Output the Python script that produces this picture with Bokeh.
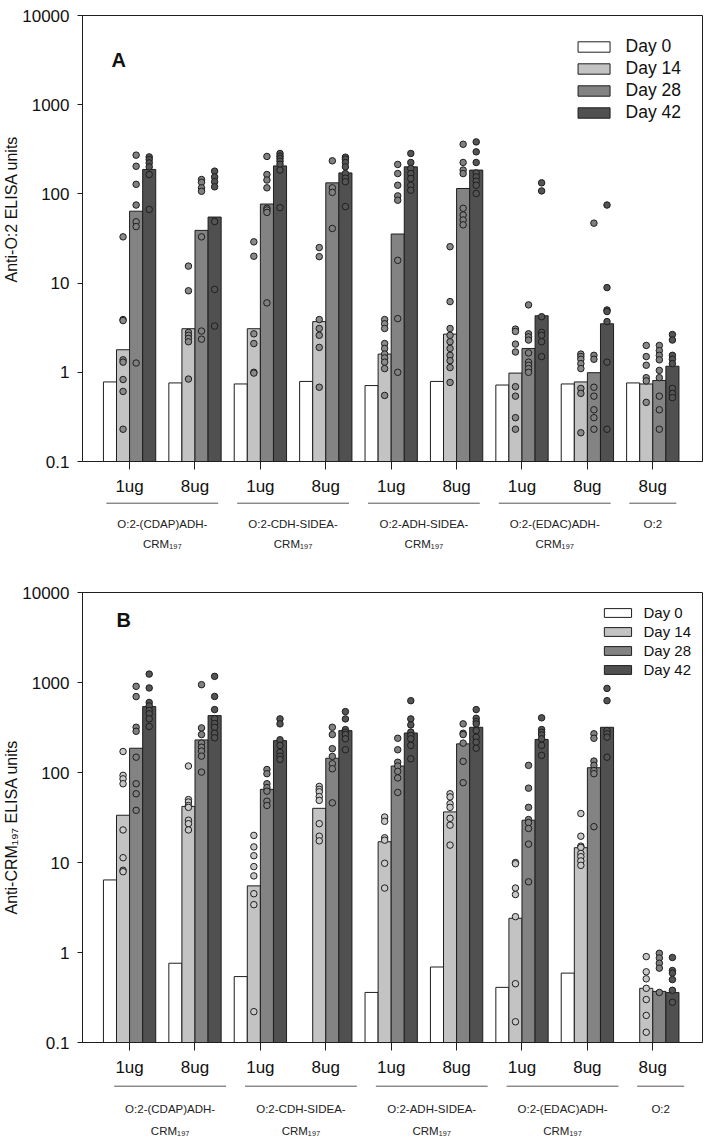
import math
import numpy as np
from bokeh.plotting import figure
from bokeh.models import (ColumnDataSource, Range1d, FixedTicker, PrintfTickFormatter,
                          Label, Legend, LegendItem, Title)
from bokeh.layouts import column
from bokeh.embed import file_html
from bokeh.resources import INLINE
from bokeh.core.properties import value

NaN = float("nan")

# ---------------- data ----------------
groups = [0, 1, 2, 3, 4, 5, 6, 7, 8]
dose_labels = ["1ug", "8ug", "1ug", "8ug", "1ug", "8ug", "1ug", "8ug", "8ug"]
construct_line1 = ["O:2-(CDAP)ADH-", "O:2-CDH-SIDEA-", "O:2-ADH-SIDEA-", "O:2-(EDAC)ADH-", "O:2"]
construct_line2 = ["CRM\u2081\u2089\u2087", "CRM\u2081\u2089\u2087", "CRM\u2081\u2089\u2087", "CRM\u2081\u2089\u2087", ""]
construct_members = [[0, 1], [2, 3], [4, 5], [6, 7], [8]]
days = ["Day 0", "Day 14", "Day 28", "Day 42"]
y_ticks = [0.1, 1, 10, 100, 1000, 10000]

# Panel A: anti-O:2 (bar = group mean)
a_day0 = [0.78, 0.76, 0.74, 0.79, 0.71, 0.79, 0.72, 0.74, 0.76]
a_day14 = [1.79, 3.08, 3.08, 3.7, 1.6, 2.68, 0.98, 0.78, 0.74]
a_day28 = [64, 39, 77, 133, 35.5, 115, 1.85, 0.99, 0.81]
a_day42 = [188, 55, 206, 172, 201, 185, 4.3, 3.5, 1.17]

a_pts14 = [
    [33, 3.9, 3.8, 1.38, 1.3, 0.83, 0.61, 0.23],
    [15.5, 8.2, 2.8, 2.6, 2.4, 2.2, 0.84],
    [29, 20, 2.7, 2.1, 1.0, 0.98],
    [25, 19.8, 3.9, 3.1, 2.6, 1.9, 0.68],
    [3.9, 3.5, 3.1, 2.1, 1.85, 1.6, 1.45, 1.3, 1.1, 0.55],
    [25.6, 6.2, 3.1, 2.6, 2.2, 1.85, 1.55, 1.35, 1.13, 0.77],
    [3.05, 2.87, 2.07, 1.69, 0.69, 0.54, 0.31, 0.23],
    [1.6, 1.5, 1.4, 1.25, 1.1, 0.66, 0.58, 0.21],
    [2.0, 1.5, 1.2, 0.87, 0.8, 0.46],
]
a_pts28 = [
    [272, 204, 128, 75, 48.7, 43, 1.27],
    [145, 135, 117, 107, 33, 2.9, 2.35],
    [263, 165, 143, 117, 69, 66, 62, 6.0],
    [235, 117, 104, 41],
    [214, 169, 125, 95, 85, 18, 4.0, 1.0],
    [360, 225, 185, 169, 69, 58, 51, 45],
    [5.7, 2.7, 2.5, 2.3, 1.65, 1.3, 1.2, 1.1, 1.0],
    [47, 1.55, 1.4, 0.68, 0.54, 0.38, 0.31, 0.23],
    [2.0, 1.75, 1.55, 1.38, 1.05, 0.87, 0.54, 0.38, 0.23],
]
a_pts42 = [
    [260, 243, 223, 201, 165, 67],
    [180, 155, 137, 120, 49, 8.5, 3.3],
    [284, 265, 250, 233, 215, 185, 70],
    [258, 245, 225, 201, 169, 150, 137, 72],
    [284, 225, 193, 169, 149, 125, 110],
    [383, 296, 225, 172, 155, 139, 125, 101],
    [133, 108, 4.2, 2.8, 2.6, 2.2, 1.5],
    [75, 8.9, 5.0, 4.8, 3.7, 1.3, 0.23],
    [2.65, 2.3, 1.55, 1.4, 1.25, 0.66, 0.58, 0.52],
]

# Panel B: anti-CRM197
b_day0 = [6.4, 0.76, 0.54, NaN, 0.36, 0.69, 0.41, 0.59, NaN]
b_day14 = [33.5, 42, 5.5, 40, 17, 36.5, 2.4, 14.6, 0.40]
b_day28 = [186, 230, 65, 144, 118, 208, 29.5, 113, 0.37]
b_day42 = [540, 429, 226, 292, 275, 318, 233, 318, 0.36]

b_pts14 = [
    [171, 93, 85, 75, 23, 11.3, 8.2, 7.9],
    [118, 50, 47, 43, 41, 29.5, 27, 23],
    [20, 14.9, 11.9, 9, 7.1, 4.5, 3.4, 0.22],
    [70, 65, 61, 54, 49, 27, 19.6, 17.4],
    [32, 28.7, 18.8, 17.7, 9.8, 5.2],
    [58, 53.5, 45, 41, 31, 26, 15.6],
    [10, 9.7, 5.2, 4.4, 2.5, 0.45, 0.17],
    [35, 19.6, 15.2, 14.7, 12.6, 11.6, 10.4, 9.3],
    [0.9, 0.61, 0.51, 0.40, 0.30, 0.20, 0.13],
]
b_pts28 = [
    [906, 697, 318, 287, 148, 75, 58, 38],
    [946, 313, 264, 212, 191, 173, 152, 101],
    [108, 97, 75, 68, 62, 48, 43],
    [318, 264, 184, 151, 125, 110, 46],
    [240, 179, 130, 118, 103, 87, 60],
    [347, 273, 264, 212, 133, 77],
    [120, 67, 41, 30, 27.8, 23.9, 16, 6.1],
    [269, 240, 134, 120, 105, 97, 25],
    [0.98, 0.87, 0.76, 0.67, 0.36],
]
b_pts42 = [
    [1240, 870, 600, 550, 490, 450, 395, 325],
    [1170, 700, 500, 395, 350, 318, 273, 243],
    [394, 347, 231, 200, 168, 152, 140],
    [475, 394, 300, 280, 264, 237, 179],
    [628, 394, 338, 281, 258, 237, 200, 142],
    [500, 400, 368, 347, 292, 247, 217, 186],
    [405, 300, 280, 262, 237, 200, 155],
    [860, 628, 292, 269, 247, 148],
    [0.88, 0.63, 0.59, 0.5, 0.38, 0.28],
]

# ---------------- style ----------------
FONT = "Liberation Sans"
INK = "#1e1e1e"
bar_colors = ["#ffffff", "#c3c3c3", "#838383", "#505050"]
offsets = [-0.3, -0.1, 0.1, 0.3]
BAR_W = 0.2
FIG_W = 711
X_LO, X_HI = -0.72, 8.76


def make_panel(means, pts, dot_colors, letter, letter_xy, letter_size, ylabel, ylabel_offset,
               b_left, b_right, b_top, frame_h, leg):
    p = figure(width=FIG_W, height=b_top + frame_h + 36,
               x_range=Range1d(X_LO, X_HI), y_range=Range1d(0.1, 10000),
               y_axis_type="log", output_backend="svg", toolbar_location=None,
               min_border_left=b_left, min_border_right=b_right,
               min_border_top=b_top, min_border_bottom=36)
    p.grid.visible = False
    p.outline_line_color = INK
    p.outline_line_width = 1
    p.background_fill_color = "white"
    p.border_fill_color = "white"

    renderers = []
    for k in range(4):
        xs = [g + offsets[k] for g, v in zip(groups, means[k]) if not math.isnan(v)]
        ys = [v for v in means[k] if not math.isnan(v)]
        src = ColumnDataSource(dict(x=xs, top=ys))
        r = p.vbar(x="x", top="top", bottom=0.01, width=BAR_W, source=src,
                   fill_color=bar_colors[k], line_color=INK, line_width=1)
        renderers.append(r)

    for k in range(1, 4):
        xs, ys = [], []
        for g, vals in zip(groups, pts[k - 1]):
            for v in vals:
                xs.append(g + offsets[k])
                ys.append(v)
        p.scatter(x=xs, y=ys, size=6.5, fill_color=dot_colors[k - 1],
                  line_color=INK, line_width=1)

    # axes
    yax = p.yaxis[0]
    yax.ticker = FixedTicker(ticks=y_ticks)
    yax.formatter = PrintfTickFormatter(format="%g")
    yax.major_label_text_font = FONT
    yax.major_label_text_font_size = "17px"
    yax.major_label_text_color = "#111111"
    yax.major_tick_out = 5
    yax.major_tick_in = 0
    yax.minor_tick_line_color = None
    yax.major_label_standoff = 8
    yax.axis_line_color = INK
    yax.major_tick_line_color = INK

    xax = p.xaxis[0]
    xax.ticker = FixedTicker(ticks=groups)
    xax.major_label_overrides = {g: lab for g, lab in zip(groups, dose_labels)}
    xax.major_label_text_font = FONT
    xax.major_label_text_font_size = "17px"
    xax.major_label_text_color = "#111111"
    xax.major_tick_out = 8
    xax.major_tick_in = 0
    xax.minor_tick_line_color = None
    xax.major_label_standoff = 7
    xax.axis_line_color = INK
    xax.major_tick_line_color = INK

    # y title as side title (placed along the frame from its bottom)
    p.add_layout(Title(text=ylabel, align="left", offset=ylabel_offset, text_font=FONT,
                       text_font_size="16px", text_font_style="normal",
                       text_color="#111111", standoff=0), "left")
    p.add_layout(Label(x=letter_xy[0], y=letter_xy[1], x_units="screen", y_units="screen",
                       text=letter, text_font=FONT, text_font_size=letter_size,
                       text_font_style="bold", text_baseline="alphabetic",
                       text_color="#111111"))

    legend = Legend(items=[LegendItem(label=d, renderers=[r]) for d, r in zip(days, renderers)],
                    location="top_right", glyph_width=leg["gw"], glyph_height=leg["gh"],
                    label_text_font=FONT, label_text_font_size=leg["fs"],
                    label_standoff=leg["standoff"], label_height=leg["lh"], spacing=leg["spacing"],
                    padding=0, margin=leg["margin"],
                    background_fill_alpha=0, border_line_color=None,
                    label_text_color="#111111")
    p.add_layout(legend)
    return p


def make_groups(x_range, b_left, b_right, H, line_y, t1_y, t2_y, shift, fs):
    g = figure(width=FIG_W, height=H, x_range=x_range, y_range=Range1d(0, H),
               x_axis_type=None, y_axis_type=None, output_backend="svg",
               toolbar_location=None, min_border_left=b_left, min_border_right=b_right,
               min_border_top=0, min_border_bottom=0)
    g.outline_line_color = None
    g.background_fill_color = "white"
    g.border_fill_color = "white"
    centers = [float(np.mean([groups[i] for i in m])) + shift for m in construct_members]
    halves = [0.855 if len(m) > 1 else 0.36 for m in construct_members]
    g.segment(x0=[c - h for c, h in zip(centers, halves)], x1=[c + h for c, h in zip(centers, halves)],
              y0=[line_y] * len(centers), y1=[line_y] * len(centers),
              line_color="#555555", line_width=1)
    g.text(x=centers, y=[t1_y] * len(centers), text=construct_line1, text_align="center",
           text_baseline="middle", text_font=value(FONT), text_font_size=fs, text_color="#222222")
    g.text(x=centers, y=[t2_y] * len(centers), text=construct_line2, text_align="center",
           text_baseline="middle", text_font=value(FONT), text_font_size=fs, text_color="#222222")
    return g


legA = dict(gw=40, gh=13, fs="17.5px", standoff=12, lh=20, spacing=1, margin=21)
legB = dict(gw=34, gh=11, fs="15px", standoff=9, lh=18, spacing=1, margin=11)

pA = make_panel([a_day0, a_day14, a_day28, a_day42], [a_pts14, a_pts28, a_pts42],
                ["#8a8a8a", "#808080", "#545454"], "A", (29, 402), "20px",
                "Anti-O:2 ELISA units", 179,
                82, 9, 15, 447, legA)
gA = make_groups(pA.x_range, 82, 9, 62, 57.3, 37, 17, 0.0, "11.5px")

pB = make_panel([b_day0, b_day14, b_day28, b_day42], [b_pts14, b_pts28, b_pts42],
                ["#c8c8c8", "#808080", "#545454"], "B", (34, 423), "20px",
                "Anti-CRM\u2081\u2089\u2087 ELISA units", 128,
                80, 6, 32, 451, legB)
gB = make_groups(pB.x_range, 80, 6, 60, 53.3, 31, 9, 0.12, "11.5px")

layout = column(pA, gA, pB, gB, spacing=0)
open("out.html", "w").write(file_html(layout, INLINE))
